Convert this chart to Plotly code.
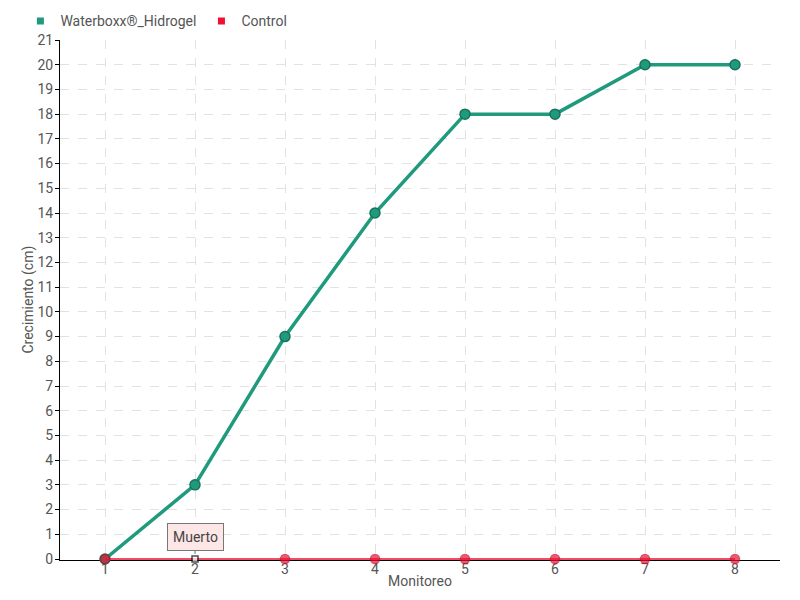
import plotly.graph_objects as go

monitoreo = [1, 2, 3, 4, 5, 6, 7, 8]
waterboxx = [0, 3, 9, 14, 18, 18, 20, 20]
control = [0, 0, 0, 0, 0, 0, 0, 0]
y_ticks = list(range(0, 22))

FONT = "Roboto, sans-serif"
GREEN = "#1f9a7c"
RED = "#ee1133"

fig = go.Figure()
fig.add_trace(go.Scatter(
    x=monitoreo, y=waterboxx, name="Waterboxx®_Hidrogel", mode="lines+markers",
    line=dict(color=GREEN, width=3.5),
    marker=dict(size=10, color=GREEN, line=dict(color="#17735c", width=1.5)),
    showlegend=False, cliponaxis=False,
))
ctrl_symbols = ["circle"] * len(monitoreo)
ctrl_colors = [RED] * len(monitoreo)
ctrl_lcolors = ["#c40f2a"] * len(monitoreo)
ctrl_sizes = [9] * len(monitoreo)
ctrl_symbols[1] = "square"
ctrl_colors[1] = "#ffffff"
ctrl_lcolors[1] = "#000000"
ctrl_sizes[1] = 6
fig.add_trace(go.Scatter(
    x=monitoreo, y=control, name="Control", mode="lines+markers",
    line=dict(color=RED, width=1.5),
    marker=dict(size=ctrl_sizes, color=ctrl_colors, symbol=ctrl_symbols,
                line=dict(color=ctrl_lcolors, width=1.5)),
    showlegend=False, cliponaxis=False,
))
# legend entries (square swatches)
for nm, col in [("Waterboxx®_Hidrogel", GREEN), ("Control", RED)]:
    fig.add_trace(go.Scatter(x=[None], y=[None], name=nm, mode="markers",
                             marker=dict(symbol="square", size=7, color=col)))

fig.add_annotation(
    x=monitoreo[1], y=control[1], text="Muerto", showarrow=True,
    arrowhead=0, arrowcolor="#777777", arrowwidth=1, ax=0, ay=-22, standoff=5,
    bgcolor="#fde6e6", bordercolor="#777777", borderwidth=1, borderpad=5,
    font=dict(family=FONT, size=14, color="#444444"),
)
fig.add_annotation(
    x=-0.045, y=0.5, xref="paper", yref="paper", text="Crecimiento (cm)",
    textangle=-90, showarrow=False, xanchor="center", yanchor="middle",
    font=dict(family=FONT, size=14, color="#555555"),
)
fig.update_layout(
    width=792, height=592,
    margin=dict(l=52, r=20, t=32, b=40, autoexpand=False),
    paper_bgcolor="white", plot_bgcolor="white",
    font=dict(family=FONT, size=14, color="#555555"),
    showlegend=True,
    legend=dict(orientation="h", x=-0.055, xref="paper", y=1.036, yanchor="middle", xanchor="left",
                font=dict(size=14, color="#555555"), itemwidth=30, tracegroupgap=0,
                bgcolor="rgba(0,0,0,0)"),
    xaxis=dict(
        range=[0.5, 8.5], tickvals=monitoreo, ticktext=[str(m) for m in monitoreo],
        showgrid=True, gridcolor="#e2e2e2", griddash="dash", gridwidth=1,
        showline=True, linecolor="#000000", linewidth=1, zeroline=False,
        ticks="", ticklabelstandoff=-4, layer="below traces",
        title=dict(text="Monitoreo", standoff=0, font=dict(size=14, color="#555555")),
        tickfont=dict(size=14, color="#555555"),
    ),
    yaxis=dict(
        range=[-0.04, 21], tickvals=y_ticks, ticktext=[str(v) for v in y_ticks],
        showgrid=True, gridcolor="#e2e2e2", griddash="dash", gridwidth=1,
        showline=True, linecolor="#000000", linewidth=1, zeroline=False,
        ticks="outside", ticklen=4, tickcolor="#000000", ticklabelstandoff=-1,
        layer="below traces",
        tickfont=dict(size=14, color="#555555"),
    ),
)
fig.write_html("out.html")
